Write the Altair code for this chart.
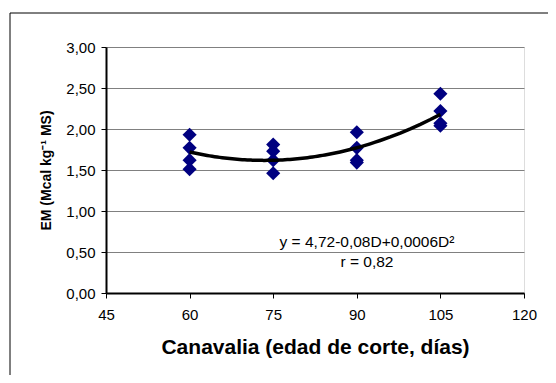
import altair as alt
import pandas as pd

# Data
dias = [60, 60, 60, 60, 75, 75, 75, 75, 90, 90, 90, 90, 105, 105, 105, 105]
em = [1.93, 1.77, 1.62, 1.51,
      1.81, 1.73, 1.62, 1.46,
      1.96, 1.77, 1.62, 1.59,
      2.43, 2.22, 2.07, 2.04]
x_ticks = [45, 60, 75, 90, 105, 120]
y_ticks = [0, 0.5, 1.0, 1.5, 2.0, 2.5, 3.0]
eq_text = "y = 4,72-0,08D+0,0006D²"
r_text = "r = 0,82"

df = pd.DataFrame({"D": dias, "EM": em})

FONT = "Liberation Sans"
W, H = 418, 246

x_enc = alt.X(
    "D:Q",
    scale=alt.Scale(domain=[45, 120], nice=False, zero=False),
    axis=alt.Axis(
        values=x_ticks,
        title="Canavalia (edad de corte, días)",
        titleFont=FONT, titleFontSize=21, titleFontWeight="bold", titleColor="black",
        titleY=54, titleBaseline="middle",
        labelFont=FONT, labelFontSize=15, labelColor="black", labelPadding=9,
        labelFlush=False, labelOverlap=False,
        tickColor="black", tickSize=5, domainColor="black", domainWidth=2,
        grid=False,
    ),
)
y_enc = alt.Y(
    "EM:Q",
    scale=alt.Scale(domain=[0, 3], nice=False, zero=True),
    axis=alt.Axis(
        values=y_ticks,
        labelExpr="replace(format(datum.value, '.2f'), '.', ',')",
        title="EM (Mcal kg⁻¹ MS)",
        titleFont=FONT, titleFontSize=14, titleFontWeight="bold", titleColor="black",
        titleX=-60, titleY=H / 2, titleBaseline="middle", titleAngle=-90,
        labelFont=FONT, labelFontSize=15, labelColor="black", labelPadding=6,
        labelFlush=False, labelOverlap=False,
        tickColor="black", tickSize=5, domainColor="black", domainWidth=2,
        grid=True, gridColor="#808080", gridWidth=1,
    ),
)

one = pd.DataFrame({"a": [0]})

frame = alt.Chart(one).mark_rect(
    fill=None, stroke="black", strokeWidth=1, clip=False
).encode(
    x=alt.value(-96), x2=alt.value(470), y=alt.value(-34), y2=alt.value(420)
)

points = alt.Chart(df).mark_point(
    shape="diamond", size=200, filled=True, color="#000080", opacity=1
).encode(x=x_enc, y=y_enc)

curve = alt.Chart(df).transform_regression(
    "D", "EM", method="poly", order=2
).mark_line(color="black", strokeWidth=3.5).encode(x=x_enc, y=y_enc)

eq1 = alt.Chart(one).mark_text(
    font=FONT, fontSize=15.5, color="black", align="center", baseline="middle",
    text=eq_text,
).encode(x=alt.value(261), y=alt.value(195))

eq2 = alt.Chart(one).mark_text(
    font=FONT, fontSize=15.5, color="black", align="center", baseline="middle",
    text=r_text,
).encode(x=alt.value(261), y=alt.value(215))

chart = alt.layer(frame, points, curve, eq1, eq2).properties(
    width=W, height=H,
    autosize=alt.AutoSizeParams(type="none"),
    padding={"left": 98, "top": 39, "right": 24, "bottom": 82},
).configure_view(stroke="#808080", strokeWidth=1).configure(background="white")

chart.save("out.html", embed_options={"renderer": "svg", "actions": False})
